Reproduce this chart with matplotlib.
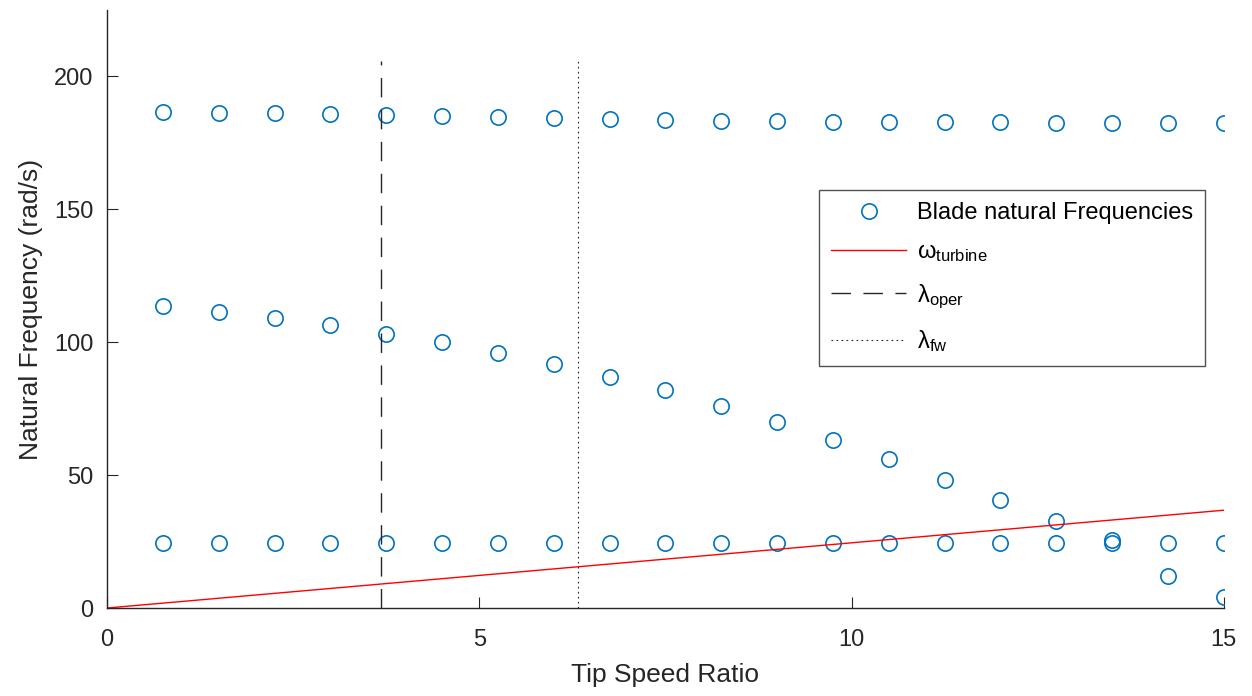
import numpy as np
import matplotlib
matplotlib.use("Agg")
import matplotlib.pyplot as plt

plt.rcParams['font.family'] = ['Liberation Sans', 'DejaVu Sans']
plt.rcParams['mathtext.fontset'] = 'custom'
plt.rcParams['mathtext.rm'] = 'Liberation Sans'
plt.rcParams['mathtext.it'] = 'Liberation Sans:italic'

# tip speed ratio values where the blade modes were computed
tsr = [0.75, 1.5, 2.25, 3.0, 3.75, 4.5, 5.25, 6.0, 6.75, 7.5,
       8.25, 9.0, 9.75, 10.5, 11.25, 12.0, 12.75, 13.5, 14.25, 15.0]

# natural frequencies (rad/s)
mode1 = [24.5, 24.5, 24.5, 24.5, 24.5, 24.5, 24.5, 24.5, 24.5, 24.5,
         24.5, 24.5, 24.5, 24.5, 24.5, 24.5, 24.5, 24.5, 24.5, 24.5]
mode2 = [113.5, 111.5, 109.0, 106.5, 103.2, 100.0, 96.0, 91.8, 87.0, 81.9,
         76.0, 70.0, 63.2, 56.1, 48.3, 40.5, 32.6, 25.5, 11.9, 4.3]
mode3 = [186.6, 186.4, 186.1, 185.8, 185.5, 185.2, 184.8, 184.4, 184.0, 183.7,
         183.4, 183.2, 183.0, 182.9, 182.8, 182.7, 182.6, 182.6, 182.5, 182.5]

# rotor speed line and the two reference tip speed ratios
tsr_line = [0, 15]
omega_turbine = [0, 36.8]
lambda_oper = 3.68
lambda_fw = 6.33
vline_top = 206

blue = '#0072BD'
dark = '#262626'

fig = plt.figure(figsize=(12.52, 6.96), dpi=100)
ax = fig.add_axes([0.0855, 0.1264, 0.892, 0.8592])

x_all = tsr + tsr + tsr
y_all = mode1 + mode2 + mode3
ax.plot(x_all, y_all, 'o', linestyle='None', markersize=11, markeredgewidth=1.2,
        markerfacecolor='none', markeredgecolor=blue, label='Blade natural Frequencies')
ax.plot(tsr_line, omega_turbine, color='red', lw=1.0, label='ω$_{\\mathrm{turbine}}$')
ax.plot([lambda_oper, lambda_oper], [0, vline_top], color=dark, lw=1.0,
        linestyle=(0, (14, 9)), label='λ$_{\\mathrm{oper}}$')
ax.plot([lambda_fw, lambda_fw], [0, vline_top], color=dark, lw=0.8,
        linestyle=(0, (1.5, 3)), label='λ$_{\\mathrm{fw}}$')

ax.set_xlim(0, 15)
ax.set_ylim(0, 225)
ax.set_xticks([0, 5, 10, 15])
ax.set_yticks([0, 50, 100, 150, 200])

for s in ['top', 'right']:
    ax.spines[s].set_visible(False)
for s in ['left', 'bottom']:
    ax.spines[s].set_color(dark)
    ax.spines[s].set_linewidth(1.0)

ax.tick_params(axis='both', direction='in', length=8, width=0.8, colors=dark, labelsize=17)
ax.tick_params(axis='x', pad=15)
ax.tick_params(axis='y', pad=10)

ax.set_xlabel('Tip Speed Ratio', fontsize=19, color=dark, labelpad=9)
ax.set_ylabel('Natural Frequency (rad/s)', fontsize=19, color=dark, labelpad=8)

leg = ax.legend(loc='upper right', bbox_to_anchor=(0.983, 0.699), borderaxespad=0,
                fontsize=17, handlelength=3.2, handletextpad=0.45, labelspacing=0.75,
                fancybox=False, frameon=True, borderpad=0.5)
leg.get_frame().set_edgecolor(dark)
leg.get_frame().set_linewidth(1.0)
for t in leg.get_texts():
    t.set_color('black')

fig.savefig('out.png', dpi=100)
